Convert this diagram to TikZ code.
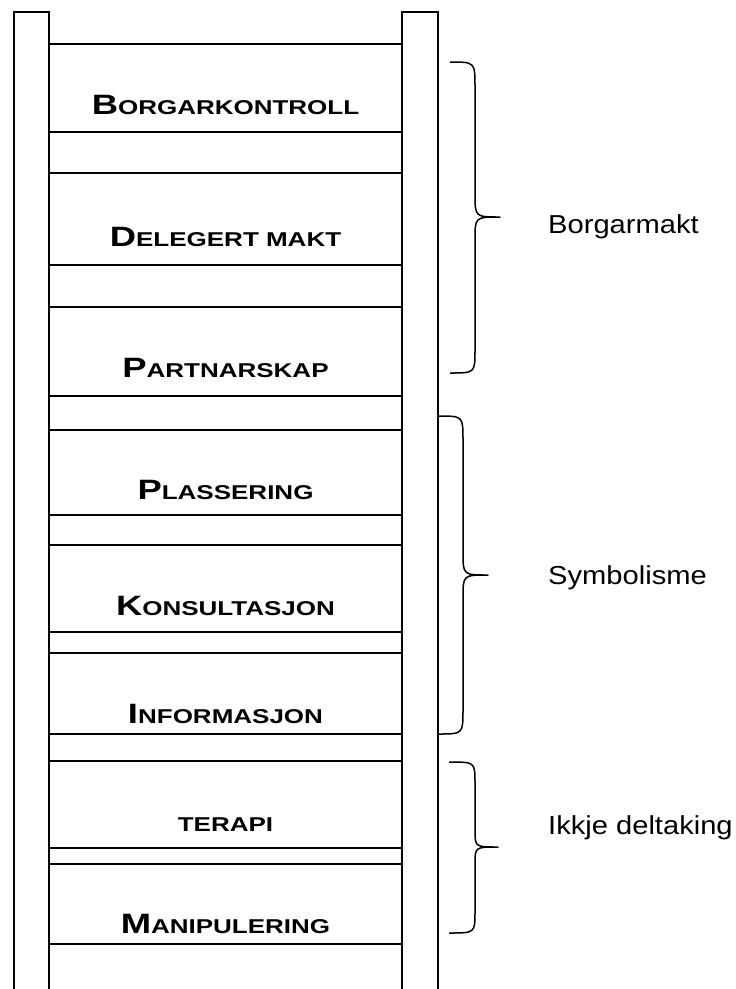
\documentclass[tikz,border=0pt]{standalone}
\usepackage{fontspec}
\usepackage{graphicx}
\setmainfont{Liberation Sans}
\newfontfamily\rungfont{Liberation Sans Bold}
\newcommand\SmC[2]{\scalebox{1.3}[1]{\rungfont{\fontsize{28}{28}\selectfont #1}{\fontsize{20}{20}\selectfont #2}}}
\tikzset{
  rail/.style={line width=2pt},
  rung/.style={line width=1.8pt},
  brace/.style={line width=1.5pt, line join=round},
  rungtext/.style={anchor=base, inner sep=0pt},
  grouplabel/.style={anchor=base west, inner sep=0pt, font=\fontsize{26}{26}\selectfont},
}
\begin{document}
\begin{tikzpicture}[x=1pt,y=-1pt]
\useasboundingbox (0,0) rectangle (736,989);
% rails
\draw[rail] (14,995) -- (14,11.7) -- (49,11.7) -- (49,995);
\draw[rail] (402,995) -- (402,11.7) -- (438,11.7) -- (438,995);
% rungs
\foreach \y in {44,132,173,265,307,396,430,515,545,632,653,734,761,848,864,944}
  \draw[rung] (49,\y) -- (402,\y);
% rung labels
\node[rungtext] (t1) at (225.5,114.3) {\SmC{B}{ORGARKONTROLL}};
\node[rungtext] (t2) at (225.5,246) {\SmC{D}{ELEGERT MAKT}};
\node[rungtext] (t3) at (225.5,377) {\SmC{P}{ARTNARSKAP}};
\node[rungtext] (t4) at (225.5,499) {\SmC{P}{LASSERING}};
\node[rungtext] (t5) at (225.5,615) {\SmC{K}{ONSULTASJON}};
\node[rungtext] (t6) at (225.5,723) {\SmC{I}{NFORMASJON}};
\node[rungtext] (t7) at (225.5,831) {\SmC{}{TERAPI}};
\node[rungtext] (t8) at (225.5,933) {\SmC{M}{ANIPULERING}};
% braces
\draw[brace] (450,62) .. controls (475,62) .. (475,87) -- (475,194)
  .. controls (475,217) .. (500,217) .. controls (475,217) .. (475,240)
  -- (475,350) .. controls (475,373) .. (450,373);
\draw[brace] (438,416) .. controls (463,416) .. (463,440) -- (463,552)
  .. controls (463,575) .. (488,575) .. controls (463,575) .. (463,598)
  -- (463,710) .. controls (463,734) .. (438,734);
\draw[brace] (449,762) .. controls (475,762) .. (475,783) -- (475,830)
  .. controls (475,847) .. (498,847) .. controls (475,847) .. (475,864)
  -- (475,912) .. controls (475,933) .. (449,933);
% group labels
\node[grouplabel] (g1) at (548,233) {\scalebox{1.12}[1]{Borgarmakt}};
\node[grouplabel] (g2) at (548,584) {\scalebox{1.12}[1]{Symbolisme}};
\node[grouplabel] (g3) at (548,834) {\scalebox{1.12}[1]{Ikkje deltaking}};
\end{tikzpicture}
\end{document}
